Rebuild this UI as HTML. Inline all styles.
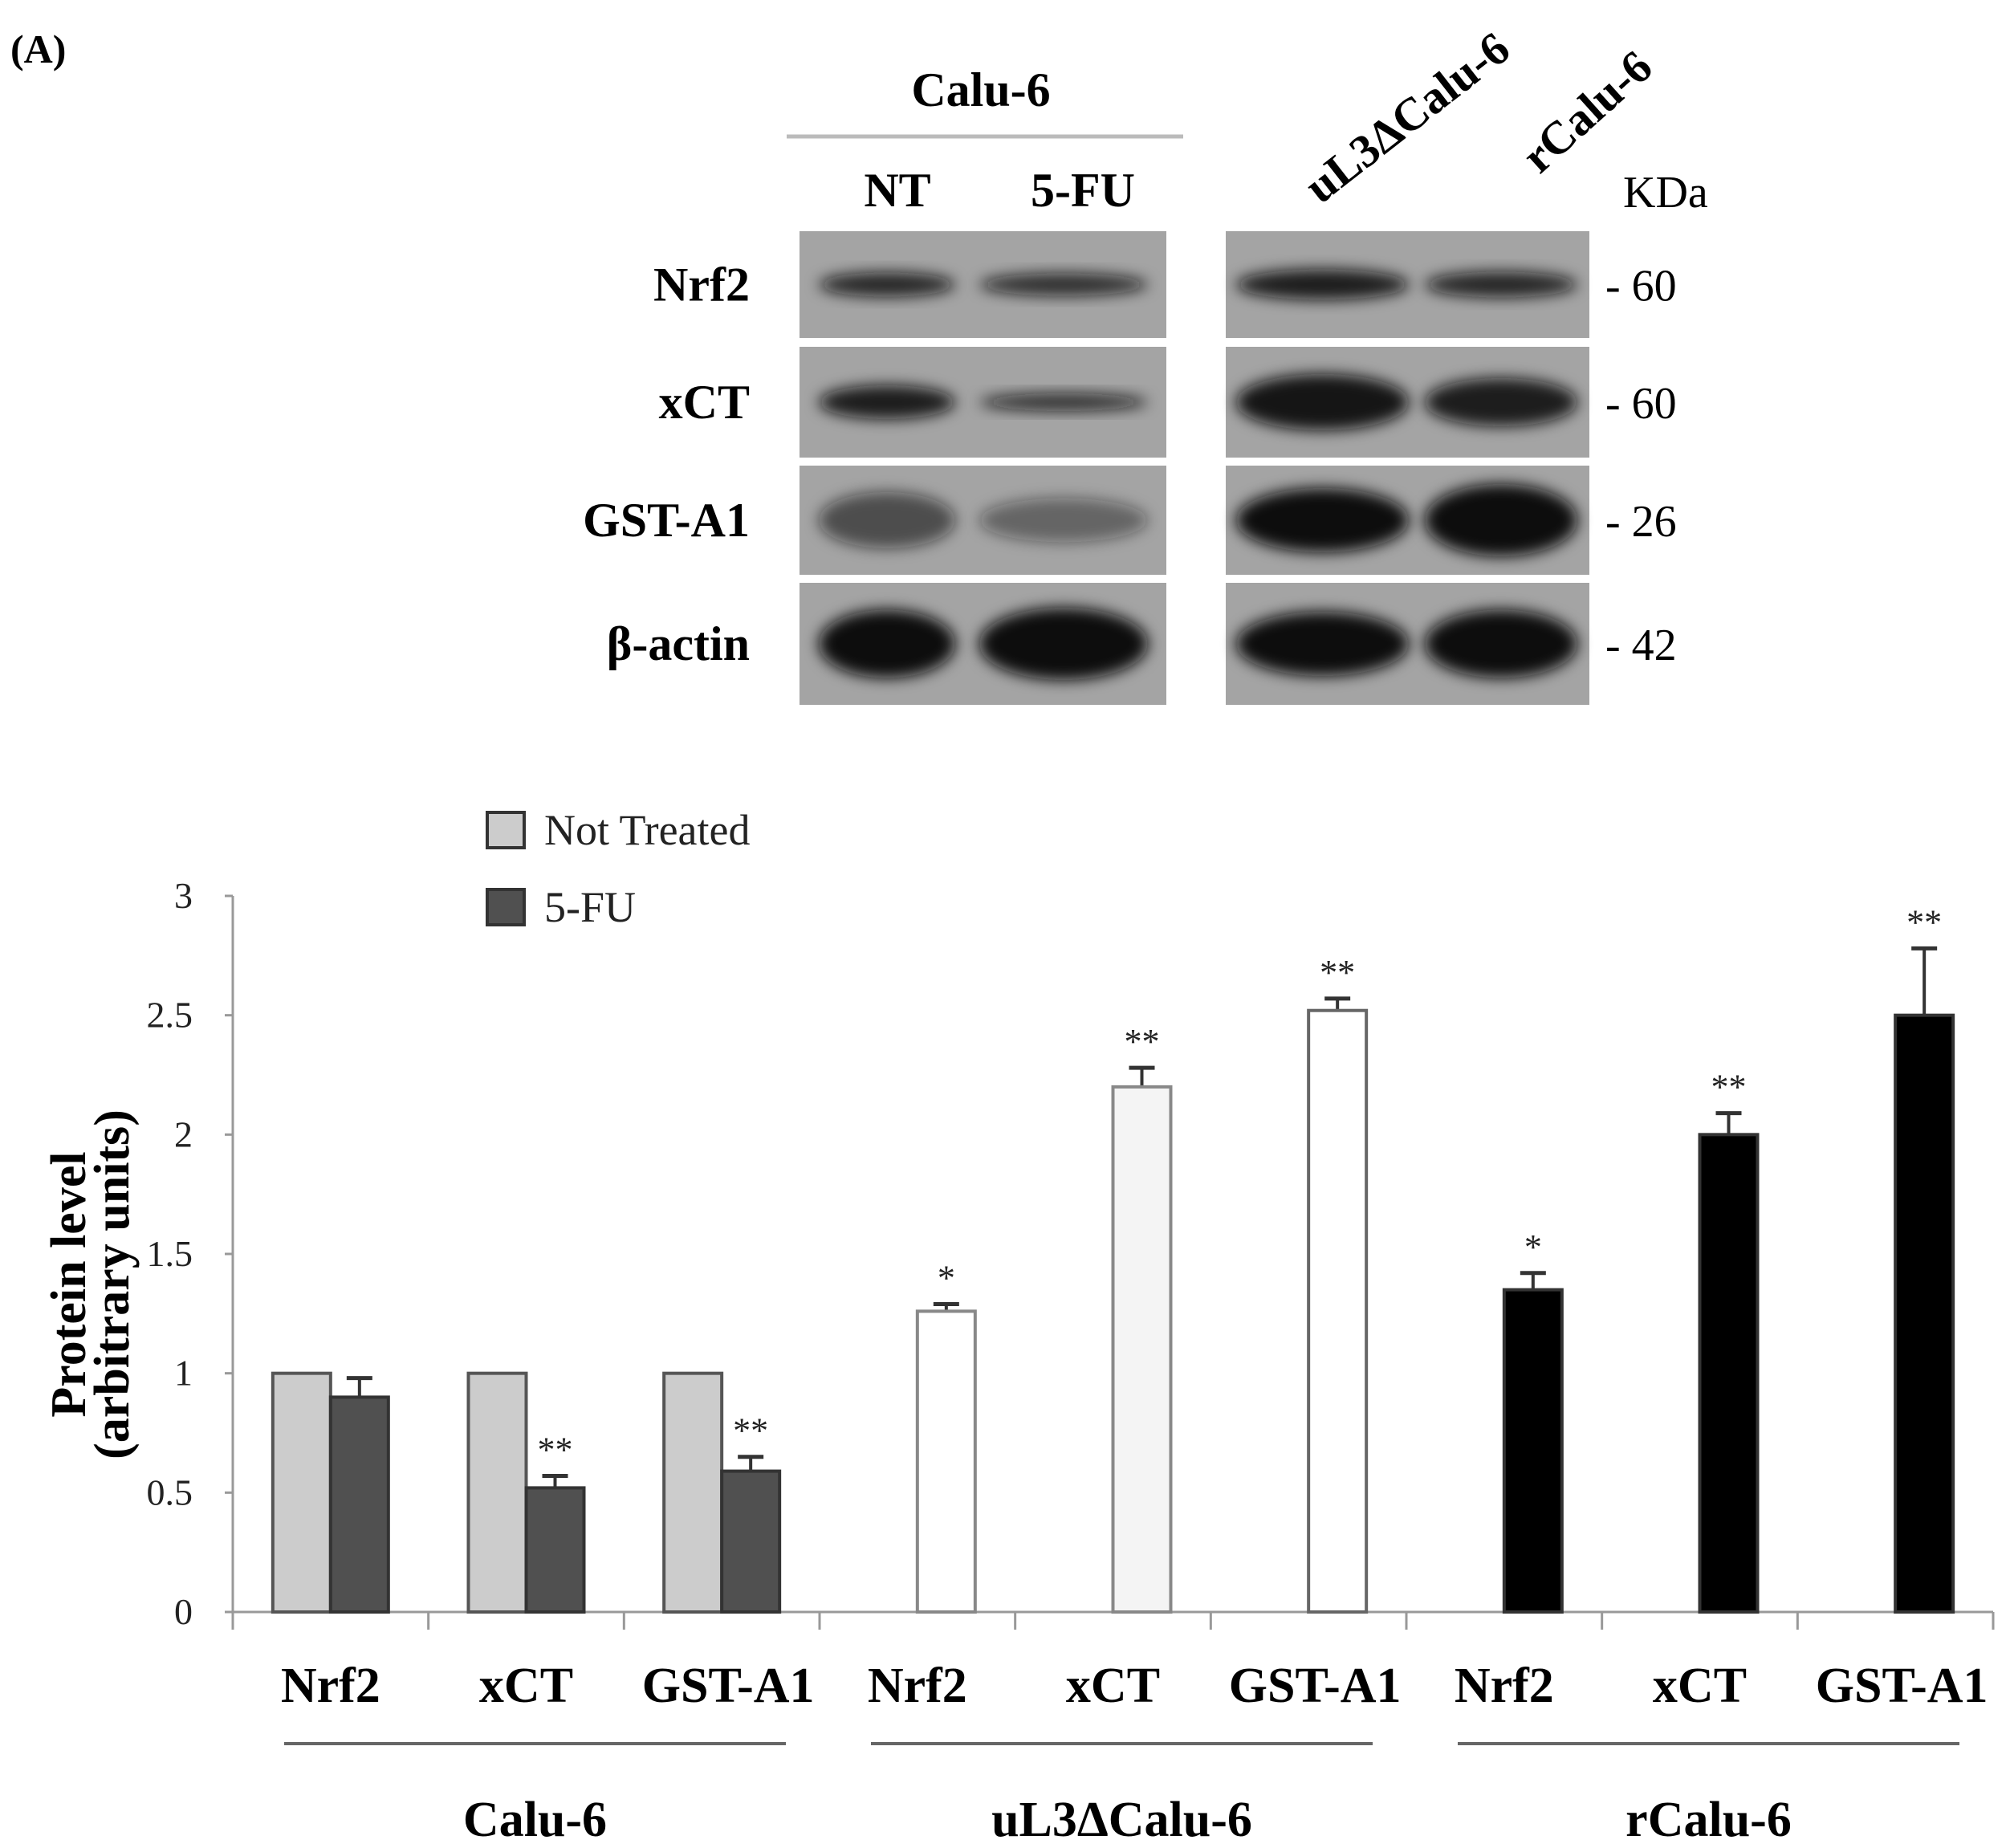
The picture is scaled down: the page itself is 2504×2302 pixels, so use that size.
<!DOCTYPE html>
<html><head><meta charset="utf-8"><style>
html,body{margin:0;padding:0;background:#fff}
svg{display:block}
text{font-family:"Liberation Serif",serif}
</style></head><body>
<svg id="fig" width="2504" height="2302" viewBox="0 0 2504 2302">
<defs>
<filter id="blur" x="-20%" y="-50%" width="140%" height="200%"><feGaussianBlur stdDeviation="9"/></filter>
</defs>
<text x="13" y="78" font-size="50" font-weight="bold">(A)</text>
<g id="blot"></g>
<g id="chart"></g>
</svg>
<script>
// ---- chart data ----
const categories = ["Nrf2","xCT","GST-A1","Nrf2","xCT","GST-A1","Nrf2","xCT","GST-A1"];
const cellLines = ["Calu-6","uL3ΔCalu-6","rCalu-6"];
const notTreated = [1, 1, 1, null, null, null, null, null, null];
const treated5FU = [0.9, 0.52, 0.59, 1.26, 2.2, 2.52, 1.35, 2.0, 2.5];
const errTreated = [0.08, 0.05, 0.06, 0.03, 0.08, 0.05, 0.07, 0.09, 0.28];
const stars = ["", "**", "**", "*", "**", "**", "*", "**", "**"];
const yTicks = [0, 0.5, 1, 1.5, 2, 2.5, 3];
const yTickLabels = ["0","0.5","1","1.5","2","2.5","3"];

const NS="http://www.w3.org/2000/svg";
function mk(tag,attrs,parent,txt){const e=document.createElementNS(NS,tag);for(const k in attrs)e.setAttribute(k,attrs[k]);if(txt!==undefined)e.textContent=txt;parent.appendChild(e);return e;}
const chart=document.getElementById('chart');
const X0=290, X1=2483, Y0=2008, Y3=1116, BW=72;
const gw=(X1-X0)/categories.length;
function yScale(v){return Y0-(v/3)*(Y0-Y3);}
function xCenter(i){return X0+gw*(i+0.5);}

let ax=mk('line',{x1:X0,y1:Y3,x2:X0,y2:Y0,stroke:'#999','stroke-width':3},chart);


ax=mk('line',{x1:X0,y1:Y0,x2:X1,y2:Y0,stroke:'#999','stroke-width':3},chart);


yTicks.forEach((t,i)=>{
  const y=yScale(t);
  let l=mk('line',{x1:X0-10,y1:y,x2:X0,y2:y,stroke:'#999','stroke-width':3},chart);
  
  
  let tx=mk('text',{x:X0-50,y:y+15,'font-size':46,'text-anchor':'end',fill:'#222'},chart,yTickLabels[i]);
  
  
});
for(let i=0;i<=categories.length;i++){
  const x=X0+gw*i;
  let l=mk('line',{x1:x,y1:Y0,x2:x,y2:Y0+22,stroke:'#999','stroke-width':3},chart);
  
  
}
categories.forEach((c,i)=>{
  let t=mk('text',{x:xCenter(i)+(i%3===2?8:0),y:2120,'font-size':62,'font-weight':'bold','text-anchor':'middle'},chart,c);
  
  
});
cellLines.forEach((c,g)=>{
  const xa=X0+gw*3*g+64, xb=X0+gw*3*(g+1)-42;
  let l=mk('line',{x1:xa,y1:2172,x2:xb,y2:2172,stroke:'#666','stroke-width':4},chart);
  
  
  let t=mk('text',{x:(xa+xb)/2,y:2287,'font-size':62,'font-weight':'bold','text-anchor':'middle'},chart,c);
  
  
});
let yt=mk('text',{transform:'translate(106,1600) rotate(-90)','font-size':62,'font-weight':'bold','text-anchor':'middle'},chart,'Protein level');


yt=mk('text',{transform:'translate(160,1600) rotate(-90)','font-size':62,'font-weight':'bold','text-anchor':'middle'},chart,'(arbitrary units)');



const fill5=["#505050","#505050","#505050","#fff","#f4f4f4","#fff","#000","#000","#000"];
const stroke5=["#333","#333","#333","#888","#888","#666","#333","#333","#333"];
categories.forEach((c,i)=>{
  const cx=xCenter(i);
  if(notTreated[i]!==null){
    let r=mk('rect',{x:cx-BW,y:yScale(notTreated[i]),width:BW,height:Y0-yScale(notTreated[i]),fill:'#cccccc',stroke:'#555','stroke-width':4},chart);
    
    
  }
  const v=treated5FU[i], top=yScale(v), et=yScale(v+errTreated[i]);
  let e=mk('line',{x1:cx+BW/2,y1:top,x2:cx+BW/2,y2:et,stroke:'#333','stroke-width':4},chart);
  
  
  e=mk('line',{x1:cx+BW/2-16,y1:et,x2:cx+BW/2+16,y2:et,stroke:'#333','stroke-width':5},chart);
  
  
  let r=mk('rect',{x:cx,y:top,width:BW,height:Y0-top,fill:fill5[i],stroke:stroke5[i],'stroke-width':4},chart);
  
  
  if(stars[i]){
    let s=mk('text',{x:cx+BW/2,y:et-18,'font-size':44,'text-anchor':'middle',fill:'#222'},chart,stars[i]);
    
    
  }
});
[['Not Treated','#cccccc',1012],['5-FU','#505050',1108]].forEach(([lab,col,y])=>{
  let r=mk('rect',{x:607,y:y,width:46,height:44,fill:col,stroke:'#333','stroke-width':4},chart);
  
  
  let t=mk('text',{x:678,y:y+40,'font-size':54,fill:'#222'},chart,lab);
  
  
});

// ---- blot ----
const blot=document.getElementById('blot');
const rowNames=["Nrf2","xCT","GST-A1","β-actin"];
const rowKda=["- 60","- 60","- 26","- 42"];
const rowsY=[[288,421],[432,570],[580,716],[726,878]];
const panels=[[996,1453],[1527,1980]];
const bands=[[[0.85,30],[0.8,28],[0.9,38],[0.85,32]],[[0.9,42],[0.8,22],[0.95,70],[0.9,60]],[[0.6,70],[0.45,55],[1,80],[1,90]],[[1,85],[1,90],[1,80],[1,85]]];
const bandX=[[1020,1190],[1220,1430],[1540,1755],[1775,1965]];
let t=mk('text',{x:1222,y:132,'font-size':60,'font-weight':'bold','text-anchor':'middle'},blot,'Calu-6');


let ln=mk('line',{x1:980,y1:170,x2:1474,y2:170,stroke:'#bbb','stroke-width':5},blot);


t=mk('text',{x:1118,y:257,'font-size':60,'font-weight':'bold','text-anchor':'middle'},blot,'NT');


t=mk('text',{x:1349,y:257,'font-size':60,'font-weight':'bold','text-anchor':'middle'},blot,'5-FU');


t=mk('text',{transform:'translate(1645,255) rotate(-38)','font-size':58,'font-weight':'bold'},blot,'uL3ΔCalu-6');


t=mk('text',{transform:'translate(1918,218) rotate(-42)','font-size':58,'font-weight':'bold'},blot,'rCalu-6');


t=mk('text',{x:2022,y:258,'font-size':56},blot,'KDa');


rowsY.forEach(([a,b],r)=>{
  panels.forEach(([pa,pb],p)=>{
    let rc=mk('rect',{x:pa,y:a,width:pb-pa,height:b-a,fill:'#a4a4a4'},blot);
    
    
  });
  const cy=(a+b)/2;
  bands[r].forEach(([op,h],k)=>{
    const [xa,xb]=bandX[k];
    let e=mk('ellipse',{cx:(xa+xb)/2,cy:cy,rx:(xb-xa)/2,ry:h/2,fill:'#111','fill-opacity':op,filter:'url(#blur)'},blot);
    
    
  });
  let tn=mk('text',{x:934,y:cy+20,'font-size':60,'font-weight':'bold','text-anchor':'end'},blot,rowNames[r]);
  
  
  let tk=mk('text',{x:2000,y:cy+20,'font-size':56},blot,rowKda[r]);
  
  
});
</script>
</body></html>
